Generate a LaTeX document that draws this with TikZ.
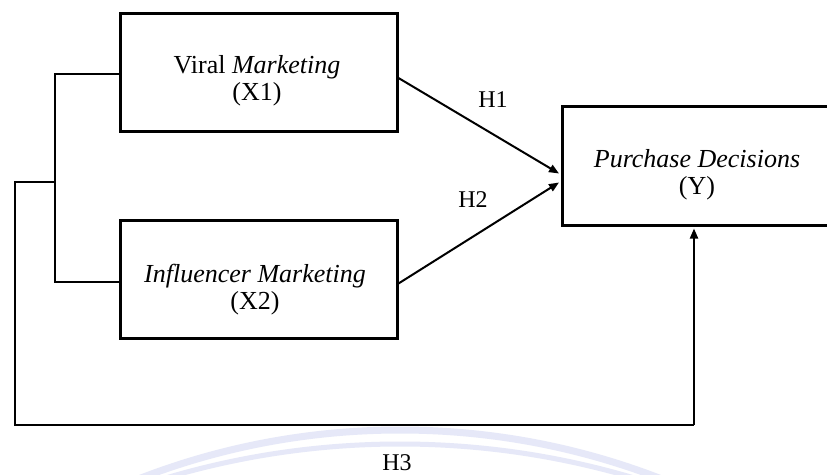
\documentclass[tikz,border=0pt]{standalone}
\usepackage{fontspec}
\setmainfont{Liberation Serif}
\usetikzlibrary{arrows.meta,calc}
\definecolor{wmark}{RGB}{230,232,248}
\begin{document}
\begin{tikzpicture}[x=1pt,y=-1pt,
  box/.style={draw,line width=3pt,minimum width=277pt,minimum height=118pt,inner sep=0pt,anchor=north west},
  conn/.style={line width=2pt,line join=miter},
  arr/.style={line width=2pt,-{Triangle[length=10pt,width=8pt]}},
  lbl/.style={font=\fontsize{26}{27}\selectfont,align=center,anchor=base,inner sep=0pt},
  hyp/.style={font=\fontsize{24}{28}\selectfont,anchor=base,inner sep=0pt}]
\clip (0,0) rectangle (827,474);
\fill[white] (0,0) rectangle (827,474);
% watermark
\draw[wmark,line width=7pt] (400,1150) circle[radius=720];
\draw[wmark,line width=5pt] (400,1262) circle[radius=818];
% boxes
\node[box] (x1) at (118.5,12) {};
\node[box] (x2) at (118.5,219) {};
\node[box,minimum width=276pt,minimum height=119pt] (y) at (560.5,105) {};
% texts (anchor = baseline of the last line)
\node[lbl] (x1t) at (257,100.5) {Viral \textit{Marketing}\\(X1)};
\node[lbl] (x2t) at (255,309.5) {\textit{Influencer Marketing}\\(X2)};
\node[lbl] (yt) at (697,194) {\textit{Purchase Decisions}\\(Y)};
% hypothesis labels
\node[hyp] (h1) at (493,107) {H1};
\node[hyp] (h2) at (473,207) {H2};
\node[hyp] (h3) at (397,470) {H3};
% connectors
\coordinate (jin) at (54.5,181.5);
\coordinate (jout) at (14.5,181.5);
\coordinate (bl) at (14.5,424.5);
\coordinate (br) at (694,424.5);
\draw[conn] ($(x1.west)+(0,1.5)$) -- ++(-64,0) |- ($(x2.west)+(0,2)$);
\draw[conn] (jin) -- (jout) -- (bl) -- (br);
\draw[arr] (br) -- ($(br |- y.south)+(0,1.5)$);
\draw[arr] ($(x1.east)+(0,5.5)$) -- ($(y.west)+(-1.5,7.5)$);
\draw[arr] ($(x2.east)+(0,4)$) -- ($(y.west)+(-1.5,16.5)$);
\end{tikzpicture}
\end{document}
